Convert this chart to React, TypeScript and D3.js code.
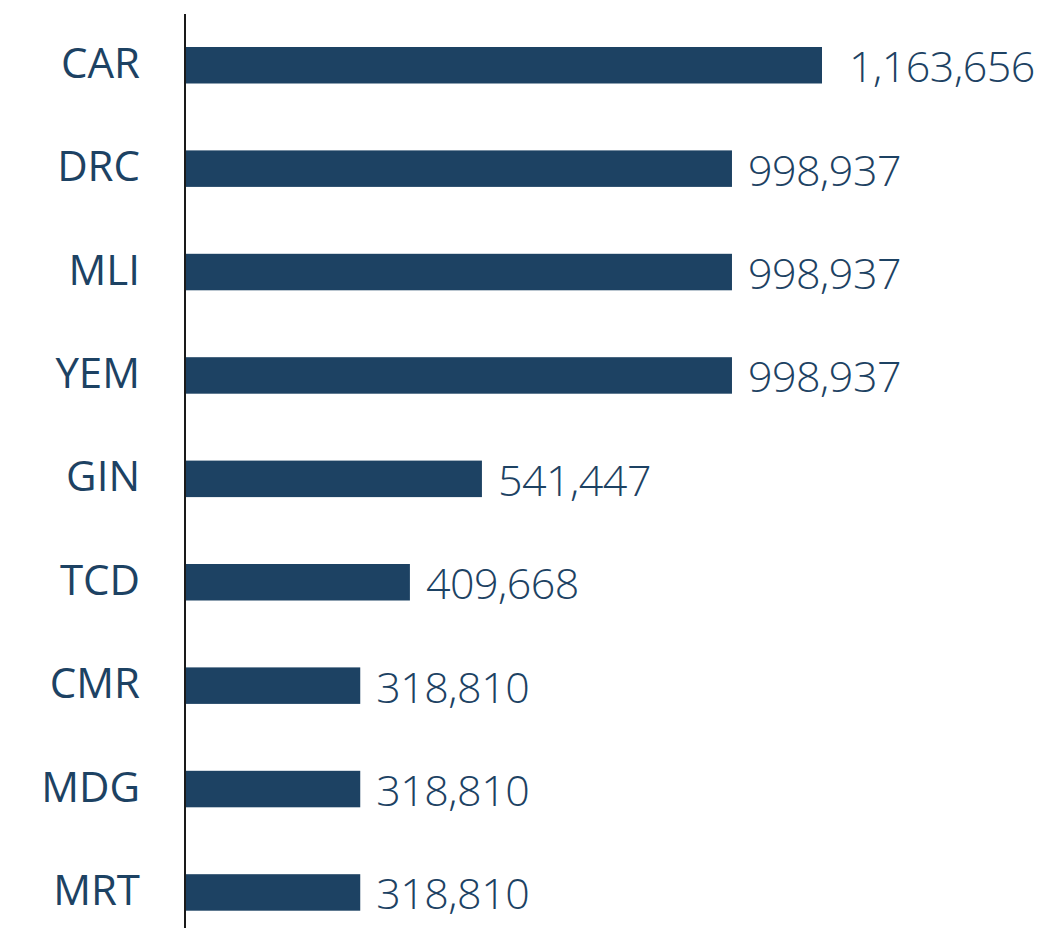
import React from "react";
import * as d3 from "d3";

const categories = ["CAR", "DRC", "MLI", "YEM", "GIN", "TCD", "CMR", "MDG", "MRT"];
const values = [1163656, 998937, 998937, 998937, 541447, 409668, 318810, 318810, 318810];

const W = 1046;
const H = 928;
const color = "#1d4263";
const textColor = "#1d4263";

export default function App() {
  const x = d3.scaleLinear().domain([0, 1163656]).range([186, 822]);
  const y = d3
    .scaleBand<string>()
    .domain(categories)
    .range([13.55, 944.15])
    .paddingInner(0.647)
    .paddingOuter(0.3235);
  const fmt = d3.format(",");
  return (
    <svg
      width={W}
      height={H}
      style={{ position: "absolute", left: 0, top: 0, background: "#fff" }}
      fontFamily="'Open Sans', sans-serif"
    >
      {categories.map((c, i) => {
        const yy = y(c)!;
        const bw = y.bandwidth();
        const cy = yy + bw / 2;
        const label = fmt(values[i]);
        return (
          <g key={c}>
            <rect x={x(0)} y={yy} width={x(values[i]) - x(0)} height={bw} fill={color} />
            <text
              x={x(values[i]) + (label.startsWith("1") ? 27 : 16)}
              y={cy + 17}
              fontSize={43}
              fontWeight={300}
              letterSpacing={-0.5}
              fill={textColor}
            >
              {label}
            </text>
            <text
              x={140}
              y={cy + 12.5}
              fontSize={42}
              fontWeight={400}
              textAnchor="end"
              fill={textColor}
            >
              {c}
            </text>
          </g>
        );
      })}
      <line x1={185} x2={185} y1={14} y2={H} stroke="#1a1a1a" strokeWidth={2} />
    </svg>
  );
}
